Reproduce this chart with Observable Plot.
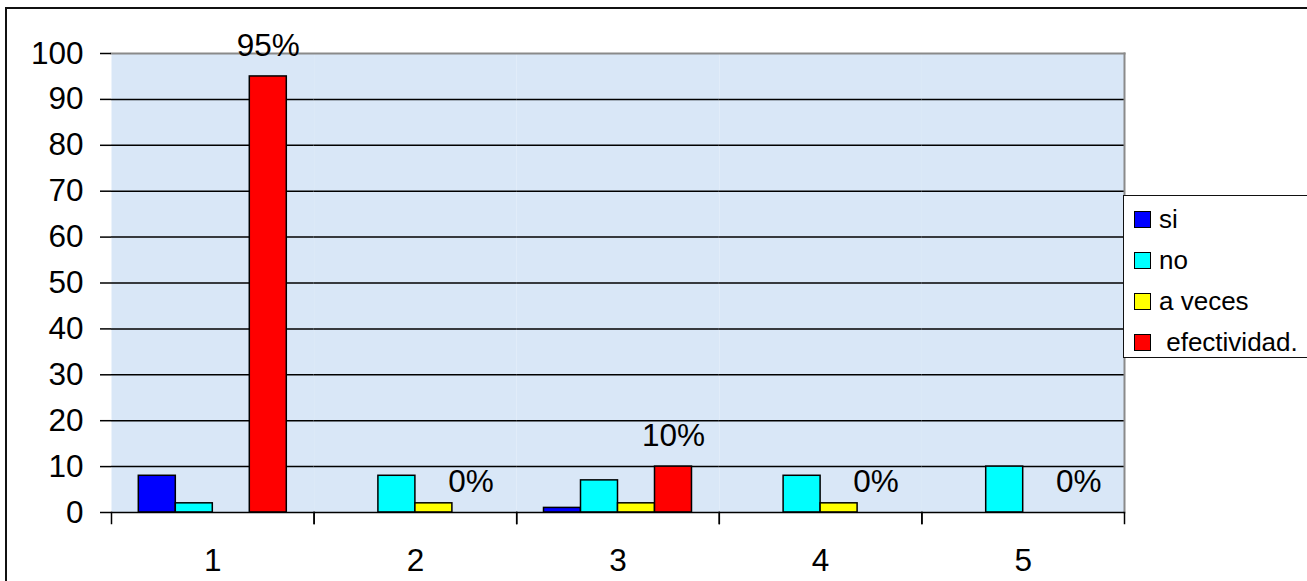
<!DOCTYPE html>
<html>
<head>
<meta charset="utf-8">
<script src="https://cdn.jsdelivr.net/npm/d3@7"></script>
<script src="https://cdn.jsdelivr.net/npm/@observablehq/plot@0.6"></script>
<style>
  body { margin: 0; background: #fff; font-family: "Liberation Sans", Arial, sans-serif; }
  #wrap { position: relative; width: 1307px; height: 581px; overflow: hidden; }
  #chart svg { display: block; }
  #border { position: absolute; left: 5px; top: 7px; width: 1400px; height: 700px; border: 2px solid #111; pointer-events: none; }
  #legend { position: absolute; left: 1123px; top: 195px; width: 300px; height: 163px; border: 1.5px solid #111; background: #fff; padding-top: 3px; box-sizing: border-box; }
  .item { display: flex; align-items: center; height: 41px; padding-left: 10px; font-size: 26px; color: #000; white-space: pre; }
  .sw { width: 15px; height: 15px; border: 1px solid #000; margin-right: 8px; flex: none; }
</style>
</head>
<body>
<div id="wrap">
  <div id="chart"></div>
  <div id="border"></div>
  <div id="legend"></div>
</div>
<script>
// Question groups along the horizontal axis
const groups = ["1", "2", "3", "4", "5"];
// Answer series, in drawing order
const series = ["si", "no", "a veces", " efectividad."];
const colors = ["#0000ff", "#00ffff", "#ffff00", "#ff0000"];

// Values per series, one per group
const si = [8, 0, 1, 0, 0];
const no = [2, 8, 7, 8, 10];
const aVeces = [0, 2, 2, 2, 0];
const efectividad = [95, 0, 10, 0, 0];

// Vertical axis ticks
const yTicks = [0, 10, 20, 30, 40, 50, 60, 70, 80, 90, 100];

const valuesBySeries = [si, no, aVeces, efectividad];
const rows = groups.flatMap((g, i) =>
  series.map((s, j) => ({group: g, series: s, value: valuesBySeries[j][i]}))
);
const effRows = groups.map((g, i) => ({group: g, series: series[3], value: efectividad[i]}));

const plotBg = "#d9e7f7";

const chart = Plot.plot({
  width: 1307,
  height: 581,
  marginLeft: 111,
  marginRight: 183,
  marginTop: 53,
  marginBottom: 69,
  style: {fontFamily: "'Liberation Sans', Arial, sans-serif", fontSize: "31.5px", color: "#000", background: "transparent", overflow: "visible"},
  fx: {domain: groups, padding: 0, round: false, label: null},
  x: {domain: series, paddingInner: 0, paddingOuter: 0.738, round: false, axis: null},
  y: {domain: [0, 100], axis: null},
  color: {domain: series, range: colors},
  marks: [
    Plot.frame({fill: plotBg, stroke: null}),
    Plot.ruleY(yTicks.filter(d => d > 0 && d < 100), {stroke: "#000", strokeWidth: 1.5}),
    Plot.frame({facet: "super", anchor: "top", stroke: "#8a8a8a", strokeWidth: 2}),
    Plot.frame({facet: "super", anchor: "right", stroke: "#8a8a8a", strokeWidth: 2}),
    Plot.barY(rows.filter(d => d.value > 0), {
      fx: "group", x: "series", y: "value", fill: "series",
      stroke: "#000", strokeWidth: 1.5
    }),
    Plot.ruleY([0], {stroke: "#000", strokeWidth: 1.5}),
    Plot.axisY({ticks: yTicks, tickSize: 11, tickPadding: 17, line: true, stroke: "#000", strokeWidth: 1.5, strokeOpacity: 1, label: null}),
    Plot.axisFx({anchor: "bottom", tickSize: 0, tickPadding: 36, label: null}),
    // short ticks below the baseline at each group boundary
    Plot.frame({anchor: "left", insetTop: 459, insetBottom: -11, stroke: "#000", strokeWidth: 1.5}),
    Plot.frame({anchor: "right", insetTop: 459, insetBottom: -11, stroke: "#000", strokeWidth: 1.5}),
    Plot.text(effRows, {
      fx: "group", x: "series", y: "value",
      text: d => `${d.value}%`, dy: -31, lineAnchor: "middle", fill: "#000"
    })
  ]
});
document.getElementById("chart").append(chart);

const legend = document.getElementById("legend");
series.forEach((s, i) => {
  const item = document.createElement("div");
  item.className = "item";
  const sw = document.createElement("span");
  sw.className = "sw";
  sw.style.background = colors[i];
  const label = document.createElement("span");
  label.textContent = s;
  item.append(sw, label);
  legend.append(item);
});
</script>
</body>
</html>
